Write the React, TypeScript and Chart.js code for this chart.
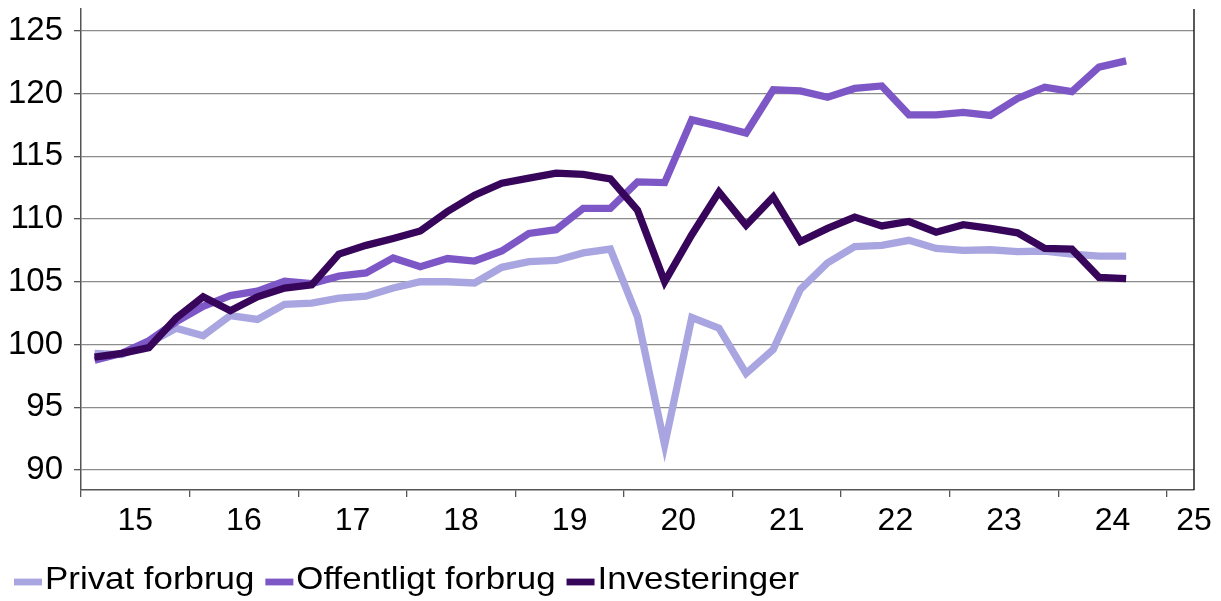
import React, { useEffect, useRef } from 'react';
import { Chart, registerables } from 'chart.js';

Chart.register(...registerables);

// Quarterly index values, 2015K1 .. 2024K3
const quarters = [
  '2015K1', '2015K2', '2015K3', '2015K4',
  '2016K1', '2016K2', '2016K3', '2016K4',
  '2017K1', '2017K2', '2017K3', '2017K4',
  '2018K1', '2018K2', '2018K3', '2018K4',
  '2019K1', '2019K2', '2019K3', '2019K4',
  '2020K1', '2020K2', '2020K3', '2020K4',
  '2021K1', '2021K2', '2021K3', '2021K4',
  '2022K1', '2022K2', '2022K3', '2022K4',
  '2023K1', '2023K2', '2023K3', '2023K4',
  '2024K1', '2024K2', '2024K3',
];

const privatForbrug = [
  99.3, 99.2, 100.1, 101.3, 100.7, 102.3, 102.0, 103.2, 103.3, 103.7,
  103.85, 104.5, 105.0, 105.0, 104.9, 106.15, 106.6, 106.7, 107.3, 107.6,
  102.2, 92.0, 102.15, 101.3, 97.7, 99.6, 104.4, 106.5, 107.8, 107.9,
  108.3, 107.65, 107.5, 107.55, 107.4, 107.45, 107.2, 107.05, 107.05,
];

const offentligtForbrug = [
  98.75, 99.3, 100.3, 101.8, 103.05, 103.9, 104.25, 105.05, 104.85, 105.45,
  105.7, 106.9, 106.2, 106.85, 106.65, 107.45, 108.85, 109.15, 110.85, 110.85,
  112.95, 112.9, 117.9, 117.4, 116.85, 120.3, 120.2, 119.7, 120.4, 120.6,
  118.3, 118.3, 118.5, 118.25, 119.6, 120.5, 120.15, 122.1, 122.6,
];

const investeringer = [
  99.0, 99.3, 99.75, 102.1, 103.8, 102.7, 103.8, 104.5, 104.75, 107.2,
  107.9, 108.45, 109.05, 110.6, 111.9, 112.85, 113.25, 113.65, 113.55, 113.2,
  110.7, 105.0, 108.75, 112.15, 109.5, 111.75, 108.2, 109.25, 110.15, 109.45,
  109.8, 108.95, 109.55, 109.25, 108.9, 107.65, 107.6, 105.35, 105.25,
];

const yearLabels = ['15', '16', '17', '18', '19', '20', '21', '22', '23', '24', '25'];
const yTickValues = [90, 95, 100, 105, 110, 115, 120, 125];

const seriesNames = ['Privat forbrug', 'Offentligt forbrug', 'Investeringer'];
const seriesColors = ['#A9A5E0', '#7E57C6', '#37065A'];

const FONT = '"Liberation Sans", Arial, Helvetica, sans-serif';
const QUARTERS_PER_YEAR = 4;
const X_MAX = 41; // axis spans 2015K1 .. 2025K1

// x tick set: year boundaries (tick marks) + year centres (labels)
type XTick = { value: number; label: string; mark: boolean };
const xTicks: XTick[] = [];
for (let k = 0; k < yearLabels.length - 1; k++) {
  xTicks.push({ value: k * QUARTERS_PER_YEAR, label: '', mark: true });
  xTicks.push({ value: k * QUARTERS_PER_YEAR + 2, label: yearLabels[k], mark: false });
}
xTicks.push({ value: (yearLabels.length - 1) * QUARTERS_PER_YEAR, label: '', mark: true });
xTicks.push({ value: X_MAX, label: yearLabels[yearLabels.length - 1], mark: false });

const legendPlugin = {
  id: 'customLegend',
  afterDraw(chart: any) {
    const ctx = chart.ctx;
    const stretch = 1.09;
    ctx.save();
    ctx.font = `32px ${FONT}`;
    ctx.textBaseline = 'middle';
    ctx.textAlign = 'left';
    let x = 14;
    const sample = 28;
    const yLine = 582;
    const yText = 580.5;
    chart.data.datasets.forEach((ds: any) => {
      ctx.strokeStyle = ds.borderColor;
      ctx.lineWidth = 6.8;
      ctx.lineCap = 'butt';
      ctx.beginPath();
      ctx.moveTo(x, yLine);
      ctx.lineTo(x + sample, yLine);
      ctx.stroke();
      x += sample + 3;
      ctx.fillStyle = '#000';
      ctx.save();
      ctx.translate(x, yText);
      ctx.scale(stretch, 1);
      ctx.fillText(ds.label, 0, 0);
      ctx.restore();
      x += ctx.measureText(ds.label).width * stretch + 11;
    });
    ctx.restore();
  },
};

const rightBorderPlugin = {
  id: 'rightBorder',
  afterDraw(chart: any) {
    const { ctx, chartArea } = chart;
    ctx.save();
    ctx.strokeStyle = '#222';
    ctx.lineWidth = 1.5;
    ctx.beginPath();
    ctx.moveTo(chartArea.right, chartArea.top);
    ctx.lineTo(chartArea.right, chartArea.bottom);
    ctx.stroke();
    ctx.restore();
  },
};

export default function App() {
  const ref = useRef<HTMLCanvasElement>(null);

  useEffect(() => {
    document.body.style.margin = '0';
    if (!ref.current) return;
    const toPoints = (arr: number[]) => arr.map((v, i) => ({ x: i + 0.5, y: v }));
    const allSeries = [privatForbrug, offentligtForbrug, investeringer];

    const chart = new Chart(ref.current, {
      type: 'line',
      data: {
        labels: quarters,
        datasets: allSeries.map((arr, i) => ({
          label: seriesNames[i],
          data: toPoints(arr),
          borderColor: seriesColors[i],
          backgroundColor: seriesColors[i],
          borderWidth: 7.3,
          pointRadius: 0,
          pointHoverRadius: 0,
          tension: 0,
          fill: false,
          borderCapStyle: 'butt',
          borderJoinStyle: 'miter',
          order: 3 - i,
        })),
      },
      options: {
        animation: false,
        responsive: false,
        events: [],
        layout: { padding: { top: 9, right: 27, left: 0, bottom: 0 } },
        plugins: {
          legend: { display: false },
          tooltip: { enabled: false },
        },
        scales: {
          x: {
            type: 'linear',
            min: 0,
            max: X_MAX,
            afterBuildTicks: (s: any) => {
              s.ticks = xTicks.map((t) => ({ value: t.value }));
            },
            afterFit: (s: any) => {
              s.height = 111;
              s.paddingLeft = 0;
              s.paddingRight = 0;
            },
            ticks: {
              autoSkip: false,
              maxRotation: 0,
              minRotation: 0,
              padding: 5,
              color: '#000',
              font: { family: FONT, size: 32 },
              callback: (value: any) => {
                const t = xTicks.find((tt) => tt.value === value);
                return t ? t.label : '';
              },
            },
            grid: {
              drawOnChartArea: false,
              drawTicks: true,
              tickLength: 7,
              lineWidth: 1.3,
              tickColor: (c: any) => {
                const t = xTicks.find((tt) => tt.value === c.tick?.value);
                return t && t.mark ? '#555' : 'rgba(0,0,0,0)';
              },
            },
            border: { display: true, color: '#555', width: 1.5 },
          },
          y: {
            type: 'linear',
            min: 88.41,
            max: 126.73,
            afterBuildTicks: (s: any) => {
              s.ticks = yTickValues.map((v) => ({ value: v }));
            },
            afterFit: (s: any) => {
              s.width = 81;
              s.paddingTop = 0;
              s.paddingBottom = 0;
            },
            ticks: {
              padding: 11,
              color: '#000',
              font: { family: FONT, size: 33 },
            },
            grid: {
              color: '#8c8c8c',
              lineWidth: 1.3,
              tickLength: 7,
              tickColor: '#555',
            },
            border: { display: true, color: '#555', width: 1.5 },
          },
        },
      },
      plugins: [legendPlugin, rightBorderPlugin],
    } as any);

    return () => chart.destroy();
  }, []);

  return (
    <div style={{ width: 1221, height: 601 }}>
      <canvas ref={ref} width={1221} height={601} style={{ display: 'block' }} />
    </div>
  );
}
